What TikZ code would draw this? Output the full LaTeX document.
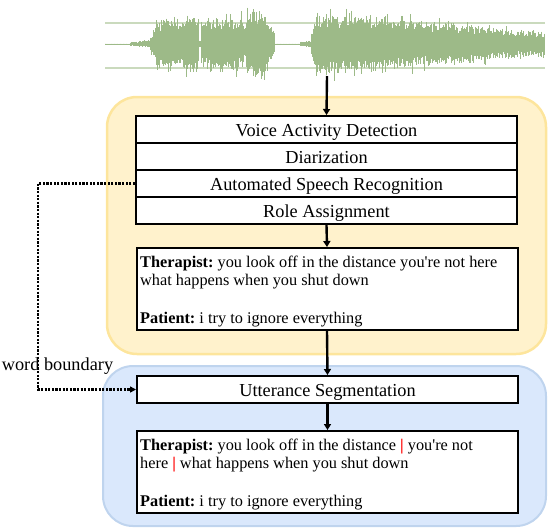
\documentclass[tikz,border=0pt]{standalone}
\usepackage{fontspec}
\newfontfamily\tfont{Liberation Serif}
\usetikzlibrary{arrows.meta}
\definecolor{wave}{HTML}{9DBA88}
\definecolor{gridc}{HTML}{CADABD}
\definecolor{yfill}{HTML}{FFF2CC}
\definecolor{ydraw}{HTML}{FDE59C}
\definecolor{bfill}{HTML}{DAE8FC}
\definecolor{bdraw}{HTML}{BFD4EE}
\definecolor{barred}{HTML}{FF0000}
\tikzset{
  every node/.style={font=\tfont\fontsize{18.3}{20}\selectfont\frenchspacing},
  rowbox/.style={draw, line width=2pt, fill=white, minimum width=381pt, minimum height=27pt, inner sep=0pt, text height=18pt, text depth=4pt},
  txtbox/.style={draw, line width=2pt, fill=white, minimum width=381pt, minimum height=82pt, inner sep=0pt},
  txtline/.style={anchor=base west, inner sep=0pt, font=\tfont\fontsize{16.3}{18.5}\selectfont\frenchspacing},
  arr/.style={line width=2.4pt, -{Triangle[length=6pt,width=7pt]}},
  dotline/.style={line width=2.2pt, dash pattern=on 2.2pt off 1.4pt, -{Triangle[length=6pt,width=6pt]}},
  panelY/.style={fill=yfill, draw=ydraw, line width=2.5pt, rounded corners=30pt},
  panelB/.style={fill=bfill, draw=bdraw, line width=2pt, rounded corners=30pt},
  wavel/.style={draw=wave, line width=0.9pt},
}
\newcommand{\sepbar}{\textcolor{barred}{\textbf{|}}}
\begin{document}
\begin{tikzpicture}[x=1pt,y=-1pt]
\useasboundingbox (0,0) rectangle (548,528);
% panels
\draw[panelY] (107,97) rectangle (546,354);
\draw[panelB] (103,366) rectangle (546,526);
% waveform grid
\draw[gridc, line width=1.2pt] (105,23) -- (545,23);
\draw[gridc, line width=1.2pt] (105,68) -- (545,68);
\draw[wave, line width=0.8pt] (105,44) -- (545,44);
\pgfmathsetseed{7}
\foreach \a/\b/\ea/\eb in {105/130/0.4/0.4, 130/150/2/4, 150/156/6/22, 156/198/25/31, 198/201/4/4, 201/243/27/29, 243/247/10/30, 247/262/35/38, 262/274/38/14, 274/300/0.4/0.4, 300/311/2/4, 311/316/10/33, 316/400/33/27, 400/545/27/12}{
  \pgfmathsetmacro\st{\a+0.75}
  \foreach \x in {\a,\st,...,\b}{
    \pgfmathsetmacro\ev{\ea+(\eb-\ea)*(\x-\a)/(\b-\a)}
    \pgfmathsetmacro\yt{44-\ev*(0.5+0.38*rnd+0.32*rnd^5)}
    \pgfmathsetmacro\yb{44+\ev*(0.5+0.38*rnd+0.32*rnd^5)}
    \draw[wavel] (\x,\yt) -- (\x,\yb);
  }
}
\coordinate (w) at (327,76);
% pipeline
\node[rowbox] (vad) at (326.5,129.5) {Voice Activity Detection};
\node[rowbox] (dia) at (326.5,156.5) {Diarization};
\node[rowbox] (asr) at (326.5,183.5) {Automated Speech Recognition};
\node[rowbox] (role) at (326.5,210.5) {Role Assignment};
\node[txtbox] (t1) at (327,289) {};
\node[txtline] (t1a) at (140,267) {\textbf{Therapist:} you look off in the distance you're not here};
\node[txtline] (t1b) at (140,285.5) {what happens when you shut down};
\node[txtline] (t1c) at (140,323) {\textbf{Patient:} i try to ignore everything};
\node[rowbox] (seg) at (327.5,389.5) {Utterance Segmentation};
\node[txtbox] (t2) at (327.5,472) {};
\node[txtline] (t2a) at (140,450) {\textbf{Therapist:} you look off in the distance \sepbar{} you're not};
\node[txtline] (t2b) at (140,468.5) {here \sepbar{} what happens when you shut down};
\node[txtline] (t2c) at (140,506.5) {\textbf{Patient:} i try to ignore everything};
\node[anchor=base, inner sep=0pt] (wb) at (57.5,370) {word boundary};
\coordinate (c1) at (38,183.5);
% connectors
\draw[arr] (w) -- (vad.north);
\draw[arr] (role.south) -- (t1.north);
\draw[arr] (t1.south) -- (seg.north);
\draw[arr] (seg.south) -- (t2.north);
\draw[dotline] (asr.west) -- (c1) |- (seg.west);
\end{tikzpicture}
\end{document}
